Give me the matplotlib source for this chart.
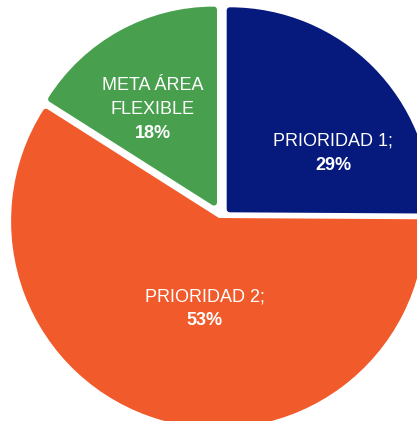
import matplotlib.pyplot as plt

# slice shares as drawn in the picture, and the printed labels
names = ['PRIORIDAD 1;', 'PRIORIDAD 2;', 'META ÁREA\nFLEXIBLE']
shares = [25.1, 58.9, 16.0]
pct_labels = ['29%', '53%', '18%']
colors = ['#061A7D', '#F15A2B', '#48A04E']

plt.rcParams['font.family'] = ['Liberation Sans Narrow', 'Liberation Sans', 'DejaVu Sans']

W, H = 417, 421
fig = plt.figure(figsize=(W / 100, H / 100), dpi=100)
ax = fig.add_axes([0, 0, 1, 1])

h = 3.0  # half width of rounding stroke, px
wedges, _ = ax.pie(shares, colors=colors, startangle=90, counterclock=False,
                   center=(220, H - 215), radius=200)

# per-slice centre / radius in picture pixels (y from top)
geo = [((226.7 + h, 212.3 - h), 202 - h),
       ((219 - 0.3 * h, 218 + h), 207 - h),
       ((217 - h, 208 - 1.8 * h), 196 - h)]
for w, c, (cen, r) in zip(wedges, colors, geo):
    w.set_center((cen[0], H - cen[1]))
    w.set_radius(r)
    w.set_edgecolor(c)
    w.set_linewidth(2 * h * 72 / 100)
    w.set_joinstyle('round')

ax.set_xlim(0, W)
ax.set_ylim(0, H)
ax.set_aspect('auto')
ax.axis('off')

# text baselines (x centre, baseline y from top)
lines = [[(333, 145), (333, 170)],
         [(205, 301), (205, 325)],
         [(153, 90), (153, 114), (153, 138)]]
for name, pct, pos in zip(names, pct_labels, lines):
    parts = name.split('\n') + [pct]
    for i, (t, (x, y)) in enumerate(zip(parts, pos)):
        bold = (i == len(parts) - 1)
        ax.text(x, H - y, t, ha='center', va='baseline', color='white',
                fontsize=13, fontweight='bold' if bold else 'normal')

fig.savefig('out.png', dpi=100)
